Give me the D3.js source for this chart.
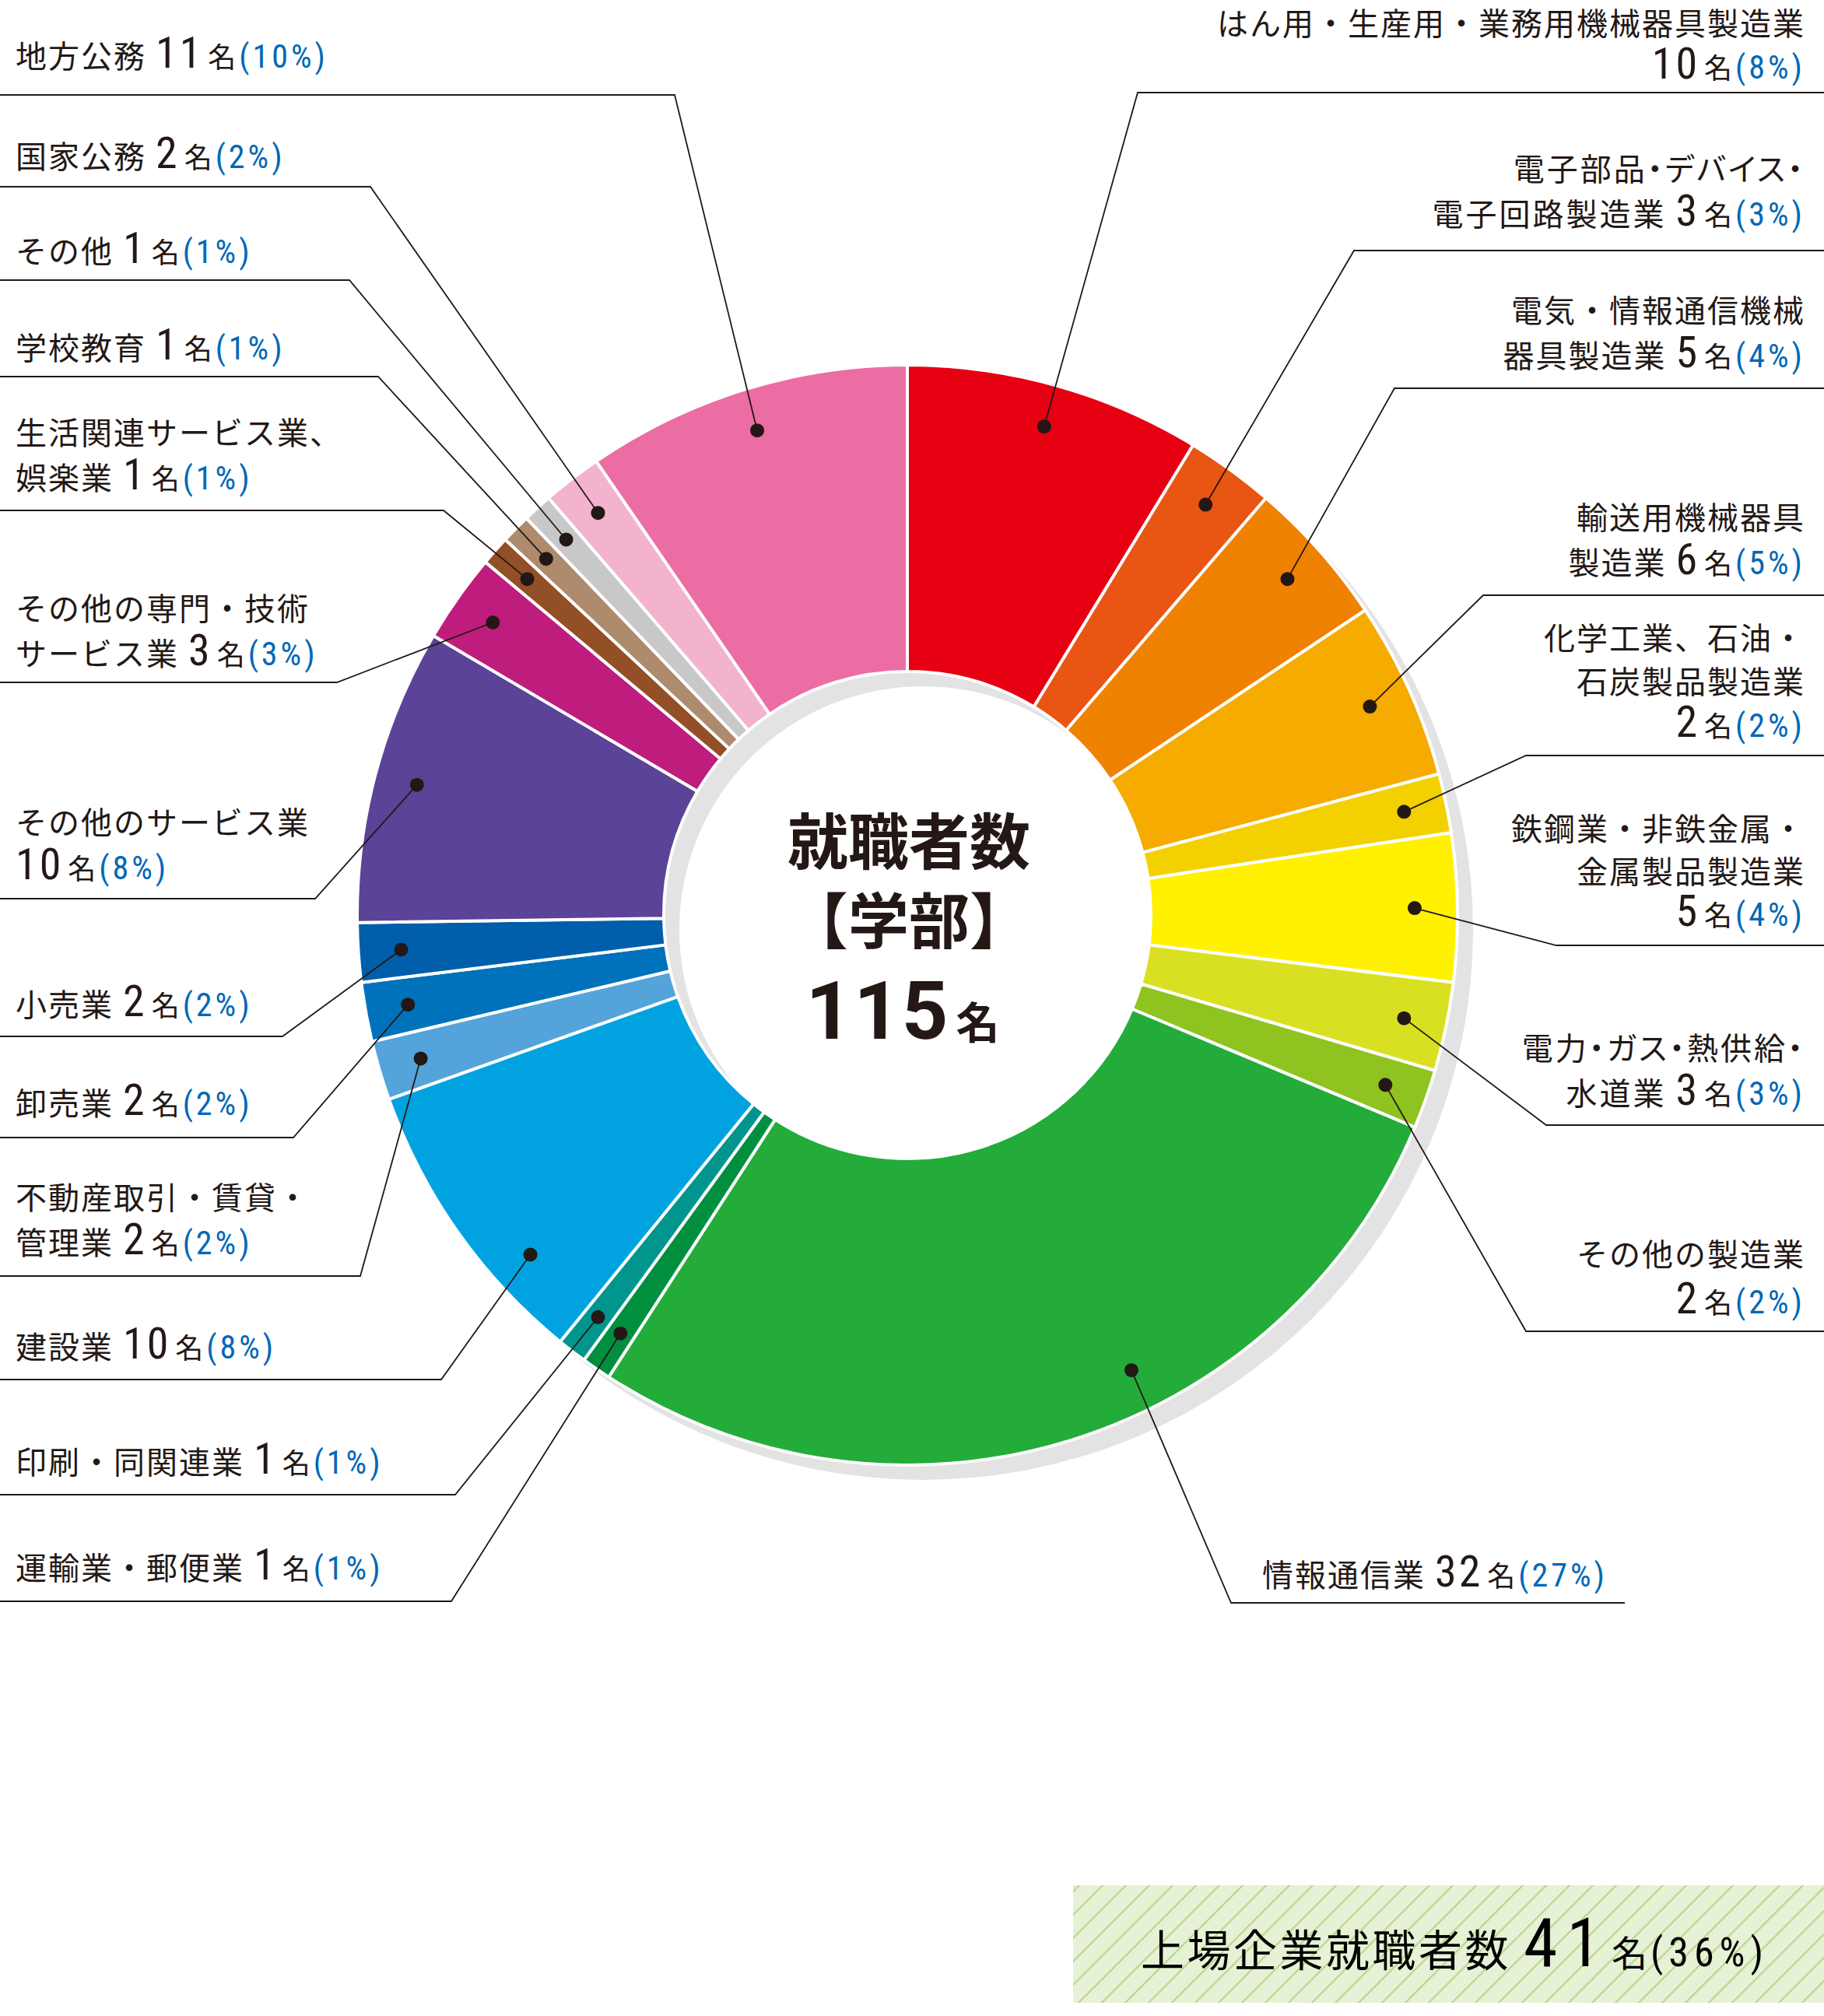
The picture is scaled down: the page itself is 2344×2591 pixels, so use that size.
<!DOCTYPE html>
<html><head><meta charset="utf-8">
<script src="https://cdn.jsdelivr.net/npm/d3@7"></script>
<style>body{margin:0;background:#fff} svg{display:block}</style>
</head><body><svg id="c" width="2344" height="2591"></svg>
<script>
// ---- data (clockwise from 12 o'clock) ----
const categories = [
  "はん用・生産用・業務用機械器具製造業",
  "電子部品・デバイス・電子回路製造業",
  "電気・情報通信機械器具製造業",
  "輸送用機械器具製造業",
  "化学工業、石油・石炭製品製造業",
  "鉄鋼業・非鉄金属・金属製品製造業",
  "電力・ガス・熱供給・水道業",
  "その他の製造業",
  "情報通信業",
  "運輸業・郵便業",
  "印刷・同関連業",
  "建設業",
  "不動産取引・賃貸・管理業",
  "卸売業",
  "小売業",
  "その他のサービス業",
  "その他の専門・技術サービス業",
  "生活関連サービス業、娯楽業",
  "学校教育",
  "その他",
  "国家公務",
  "地方公務"
];
const values = [10, 3, 5, 6, 2, 5, 3, 2, 32, 1, 1, 10, 2, 2, 2, 10, 3, 1, 1, 1, 2, 11];
const percentLabels = [8, 3, 4, 5, 2, 4, 3, 2, 27, 1, 1, 8, 2, 2, 2, 8, 3, 1, 1, 1, 2, 10];
const colors = ["#e60012", "#e95513", "#ef8200", "#f5ab00", "#f3d100", "#fff100", "#d9e021", "#8fc31f",
  "#23ac39", "#008f3f", "#00958d", "#00a3e0", "#54a4db", "#0072bc", "#005eab", "#5b4397",
  "#be1d7d", "#934f25", "#ae8b6d", "#c8c8c8", "#f3b2cd", "#eb6da3"];
const centerTitle = ["就職者数", "【学部】"];
const unitLabel = "名";
const listedTitle = "上場企業就職者数";
const listedCount = 41;
const listedPct = 36;

// ---- layout (positions only) ----
const labelLayout = [
  {side:'R', split:[18], numOwn:true, y0:45, pitch:56, lineY:119, breakX:1462},
  {side:'R', split:[10,7], y0:232, pitch:58, lineY:322, breakX:1740, palt:true},
  {side:'R', split:[9,5], y0:414, pitch:58, lineY:499, breakX:1792},
  {side:'R', split:[7,3], y0:680, pitch:58, lineY:765, breakX:1906},
  {side:'R', split:[8,7], numOwn:true, y0:835, pitch:56, lineY:971, breakX:1961},
  {side:'R', split:[9,7], numOwn:true, y0:1080, pitch:55, lineY:1215, breakX:2000},
  {side:'R', split:[10,3], y0:1362, pitch:58, lineY:1446, breakX:1987, palt:true},
  {side:'R', split:[7], numOwn:true, y0:1627, pitch:61, lineY:1711, breakX:1961},
  {side:'B', split:[5], y0:2039, lineY:2060, breakX:1582, lineEnd:2088, textX:1622, dotShift:-9},
  {side:'L', split:[7], y0:2030, lineY:2058, breakX:580},
  {side:'L', split:[7], y0:1894, lineY:1921, breakX:585},
  {side:'L', split:[3], y0:1746, lineY:1773, breakX:567, dotShift:-6.8},
  {side:'L', split:[9,3], y0:1554, pitch:58, lineY:1640, breakX:463},
  {side:'L', split:[3], y0:1433, lineY:1462, breakX:377},
  {side:'L', split:[3], y0:1306, lineY:1332, breakX:363},
  {side:'L', split:[9], numOwn:true, y0:1072, pitch:58, lineY:1155, breakX:405},
  {side:'L', split:[9,5], y0:797, pitch:58, lineY:877, breakX:433},
  {side:'L', split:[10,3], y0:571, pitch:58, lineY:656, breakX:570},
  {side:'L', split:[4], y0:462, lineY:484, breakX:486},
  {side:'L', split:[3], y0:338, lineY:360, breakX:449},
  {side:'L', split:[4], y0:216, lineY:240, breakX:476},
  {side:'L', split:[4], y0:87, lineY:122, breakX:867}
];

const W = 2344, H = 2591;
const cx = 1166, cy = 1176, R = 707, r0 = 313, dotR = 652;
const JP = "'Noto Sans CJK JP','Noto Sans',sans-serif";
const NUM = "'Liberation Sans Narrow','Roboto Condensed',Roboto,'Noto Sans',sans-serif";
const INK = "#231815", BLUE = "#0068b7";

const svg = d3.select("#c");
svg.append("rect").attr("width", W).attr("height", H).attr("fill", "#fff");

// pattern for bottom box
const defs = svg.append("defs");
const pat = defs.append("pattern").attr("id", "stripe").attr("patternUnits", "userSpaceOnUse")
  .attr("width", 30).attr("height", 30);
pat.append("rect").attr("width", 30).attr("height", 30).attr("fill", "#e6f1d5");
pat.append("path").attr("d", "M-5,5 L5,-5 M0,30 L30,0 M25,35 L35,25")
  .attr("stroke", "#b6da8c").attr("stroke-width", 2.2);

const pie = d3.pie().sort(null).value(d => d)(values);
const arc = d3.arc().innerRadius(r0).outerRadius(R);

// shadow ring
svg.append("path")
  .attr("transform", `translate(${cx + 20},${cy + 19})`)
  .attr("d", d3.arc().innerRadius(r0).outerRadius(R)({startAngle: 0, endAngle: 2 * Math.PI}))
  .attr("fill", "#e3e3e3");

const g = svg.append("g").attr("transform", `translate(${cx},${cy})`);
g.selectAll("path.slice").data(pie).join("path")
  .attr("class", "slice")
  .attr("d", arc)
  .attr("fill", (d, i) => colors[i])
  .attr("stroke", "#fff").attr("stroke-width", 4).attr("stroke-linejoin", "miter");

// leaders & dots
const leaders = svg.append("g");
pie.forEach((a, i) => {
  const L = labelLayout[i];
  const th = (a.startAngle + a.endAngle) / 2 + (L.dotShift || 0) * Math.PI / 180;
  const dx = cx + dotR * Math.sin(th), dy = cy - dotR * Math.cos(th);
  let startX = L.side === 'L' ? 0 : (L.side === 'R' ? W : L.lineEnd);
  const pts = [[startX, L.lineY], [L.breakX, L.lineY], [dx, dy]];
  leaders.append("path").attr("d", d3.line()(pts))
    .attr("fill", "none").attr("stroke", INK).attr("stroke-width", 1.8);
  leaders.append("circle").attr("cx", dx).attr("cy", dy).attr("r", 9).attr("fill", INK);
});

// labels
const labels = svg.append("g");
categories.forEach((name, i) => {
  const L = labelLayout[i];
  const chars = Array.from(name);
  const rows = [];
  let p = 0;
  L.split.forEach(n => { rows.push(chars.slice(p, p + n).join("")); p += n; });
  if (L.numOwn) rows.push("");
  const x = L.side === 'L' ? 20 : (L.side === 'R' ? 2320 : L.textX);
  const anchor = L.side === 'R' ? 'end' : 'start';
  const pitch = L.pitch || 58;
  rows.forEach((row, k) => {
    const t = labels.append("text").attr("x", x).attr("y", L.y0 + k * pitch)
      .attr("text-anchor", anchor).attr("fill", INK).attr("font-family", JP);
    if (row) {
      const ts = t.append("tspan").text(row).attr("font-size", 40).attr("letter-spacing", 2);
      if (L.palt) ts.style("font-feature-settings", "'palt' 1").attr("letter-spacing", 3);
    }
    if (k === rows.length - 1) {
      t.append("tspan").text(values[i]).attr("font-family", NUM).attr("font-size", 56)
        .attr("dx", row ? 12 : 0).attr("letter-spacing", 3);
      t.append("tspan").text(unitLabel).attr("font-size", 36).attr("dx", 6);
      t.append("tspan").text(`(${percentLabels[i]}%)`).attr("font-family", NUM)
        .attr("font-size", 42).attr("fill", BLUE).attr("dx", 4).attr("letter-spacing", 4);
    }
  });
});

// center text
const total = d3.sum(values);
svg.append("text").attr("x", cx + 2).attr("y", 1111).attr("text-anchor", "middle")
  .attr("font-family", JP).attr("font-weight", 700).attr("font-size", 78).attr("fill", INK)
  .text(centerTitle[0]);
svg.append("text").attr("x", cx + 2).attr("y", 1213).attr("text-anchor", "middle")
  .attr("font-family", JP).attr("font-weight", 700).attr("font-size", 78).attr("fill", INK)
  .text(centerTitle[1]);
const tt = svg.append("text").attr("x", cx - 6).attr("y", 1335).attr("text-anchor", "middle")
  .attr("fill", INK).attr("font-weight", 700);
tt.append("tspan").text(total).attr("font-family", "Roboto,'Noto Sans',sans-serif").attr("font-size", 104).attr("letter-spacing", 2);
tt.append("tspan").text(unitLabel).attr("font-family", JP).attr("font-size", 56).attr("dx", 8);

// bottom box
svg.append("rect").attr("x", 1379).attr("y", 2423).attr("width", W - 1379).attr("height", 151)
  .attr("fill", "url(#stripe)");
const bt = svg.append("text").attr("x", 1466).attr("y", 2527).attr("fill", "#000").attr("font-family", JP);
bt.append("tspan").text(listedTitle).attr("font-size", 56).attr("letter-spacing", 3.5);
bt.append("tspan").text(listedCount).attr("font-family", NUM).attr("font-size", 88).attr("dx", 16).attr("letter-spacing", 12);
bt.append("tspan").text(unitLabel).attr("font-size", 46).attr("dx", 2);
bt.append("tspan").text(`(${listedPct}%)`).attr("font-family", NUM).attr("font-size", 52).attr("dx", 4).attr("letter-spacing", 7);
</script></body></html>
